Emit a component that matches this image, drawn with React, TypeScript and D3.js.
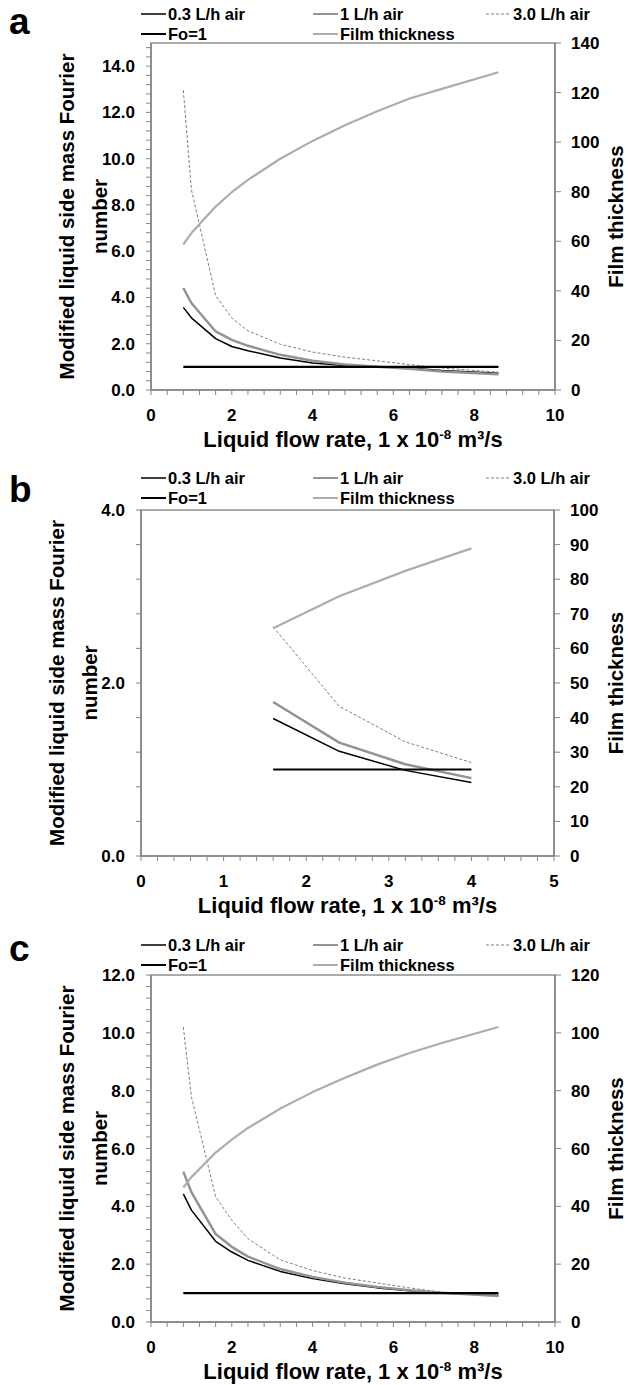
import React from "react";
import * as d3 from "d3";

const FONT = "'Liberation Sans', Arial, Helvetica, sans-serif";

// ---------- Data ----------
const seriesNames = ["0.3 L/h air", "1 L/h air", "3.0 L/h air", "Fo=1", "Film thickness"];
const xTitle = "Liquid flow rate, 1 x 10";
const yTitle1 = "Modified liquid side mass Fourier";
const yTitle2 = "number";
const rTitle = "Film thickness";

// Panel a
const flowA = [0.8, 1.0, 1.6, 2.0, 2.4, 3.2, 4.0, 4.8, 5.6, 6.4, 7.2, 8.6];
const foA03 = [3.57, 3.12, 2.22, 1.88, 1.7, 1.38, 1.17, 1.06, 1.0, 0.95, 0.84, 0.72];
const foA1 = [4.41, 3.76, 2.53, 2.17, 1.91, 1.52, 1.26, 1.1, 1.01, 0.92, 0.8, 0.68];
const foA3 = [12.96, 8.66, 4.08, 3.11, 2.56, 1.98, 1.64, 1.42, 1.26, 1.1, 0.95, 0.77];
const refFlowA = [0.8, 8.6];
const refFoA = [1.0, 1.0];
const filmA = [58.7, 63.3, 74.0, 79.8, 84.8, 93.3, 100.5, 106.8, 112.5, 117.6, 121.5, 128.2];

// Panel b
const flowB = [1.6, 2.4, 3.2, 4.0];
const foB03 = [1.59, 1.21, 0.99, 0.85];
const foB1 = [1.78, 1.31, 1.06, 0.9];
const foB3 = [2.65, 1.73, 1.32, 1.08];
const refFlowB = [1.6, 4.0];
const refFoB = [1.0, 1.0];
const filmB = [65.8, 75.1, 82.4, 88.9];

// Panel c
const flowC = [0.8, 1.0, 1.6, 2.0, 2.4, 3.2, 4.0, 4.8, 5.6, 6.4, 7.2, 8.6];
const foC03 = [4.43, 3.87, 2.79, 2.42, 2.13, 1.75, 1.5, 1.32, 1.18, 1.08, 1.0, 0.92];
const foC1 = [5.2, 4.49, 3.04, 2.6, 2.26, 1.83, 1.56, 1.36, 1.21, 1.1, 1.01, 0.9];
const foC3 = [10.2, 7.79, 4.33, 3.52, 2.88, 2.15, 1.78, 1.52, 1.35, 1.18, 1.03, 0.92];
const refFlowC = [0.8, 8.6];
const refFoC = [1.0, 1.0];
const filmC = [46.5, 50.1, 58.6, 63.1, 67.1, 73.8, 79.5, 84.5, 89.0, 93.0, 96.5, 102.0];

// ---------- Styles ----------
const styles = [
  { stroke: "#000000", width: 1.5, dash: "" },
  { stroke: "#939393", width: 2.5, dash: "" },
  { stroke: "#808080", width: 1, dash: "3,2" },
  { stroke: "#000000", width: 2.2, dash: "" },
  { stroke: "#adadad", width: 2.2, dash: "" },
];

type PanelCfg = {
  label: string;
  top: number;
  bottom: number;
  left: number;
  right: number;
  legendY: number;
  labelY: number;
  xMax: number;
  xStep: number;
  xMinor: number;
  yMax: number;
  yLabelMax: number;
  yStep: number;
  yMinor: number;
  rMax: number;
  rStep: number;
  flow: number[];
  s03: number[];
  s1: number[];
  s3: number[];
  refX: number[];
  refY: number[];
  film: number[];
};

const panels: PanelCfg[] = [
  {
    label: "a", top: 43, bottom: 390, left: 151, right: 555, legendY: 14, labelY: 34,
    xMax: 10, xStep: 2, xMinor: 0.4, yMax: 15, yLabelMax: 14, yStep: 2, yMinor: 0.4,
    rMax: 140, rStep: 20, flow: flowA, s03: foA03, s1: foA1, s3: foA3,
    refX: refFlowA, refY: refFoA, film: filmA,
  },
  {
    label: "b", top: 510, bottom: 856, left: 141, right: 554, legendY: 478, labelY: 502,
    xMax: 5, xStep: 1, xMinor: 0.2, yMax: 4, yLabelMax: 4, yStep: 2, yMinor: 0.4,
    rMax: 100, rStep: 10, flow: flowB, s03: foB03, s1: foB1, s3: foB3,
    refX: refFlowB, refY: refFoB, film: filmB,
  },
  {
    label: "c", top: 975, bottom: 1322, left: 151, right: 555, legendY: 945, labelY: 961,
    xMax: 10, xStep: 2, xMinor: 0.4, yMax: 12, yLabelMax: 12, yStep: 2, yMinor: 0.4,
    rMax: 120, rStep: 20, flow: flowC, s03: foC03, s1: foC1, s3: foC3,
    refX: refFlowC, refY: refFoC, film: filmC,
  },
];

function Panel({ p }: { p: PanelCfg }) {
  const x = d3.scaleLinear().domain([0, p.xMax]).range([p.left, p.right]);
  const y = d3.scaleLinear().domain([0, p.yMax]).range([p.bottom, p.top]);
  const yr = d3.scaleLinear().domain([0, p.rMax]).range([p.bottom, p.top]);
  const line = d3
    .line<[number, number]>()
    .x((d) => x(d[0]))
    .y((d) => y(d[1]));
  const lineR = d3
    .line<[number, number]>()
    .x((d) => x(d[0]))
    .y((d) => yr(d[1]));
  const zip = (a: number[], b: number[]) => a.map((v, i) => [v, b[i]] as [number, number]);

  const xMinorTicks = d3.range(0, p.xMax + 1e-9, p.xMinor);
  const xLabels = d3.range(0, p.xMax + 1e-9, p.xStep);
  const yMinorTicks = d3.range(0, p.yMax + 1e-9, p.yMinor);
  const yLabels = d3.range(0, p.yLabelMax + 1e-9, p.yStep);
  const rTicks = d3.range(0, p.rMax + 1e-9, p.rStep);
  const midY = (p.top + p.bottom) / 2;
  const midX = (p.left + p.right) / 2;
  const axisColor = "#868686";

  const legendCols = [141, 313, 486];
  const legendItems = [
    { i: 0, col: 0, row: 0 },
    { i: 1, col: 1, row: 0 },
    { i: 2, col: 2, row: 0 },
    { i: 3, col: 0, row: 1 },
    { i: 4, col: 1, row: 1 },
  ];

  const paths = [
    { d: line(zip(p.flow, p.s03)), s: styles[0] },
    { d: line(zip(p.flow, p.s1)), s: styles[1] },
    { d: line(zip(p.flow, p.s3)), s: styles[2] },
    { d: line(zip(p.refX, p.refY)), s: styles[3] },
    { d: lineR(zip(p.flow, p.film)), s: styles[4] },
  ];

  return (
    <g>
      {/* panel letter */}
      <text x={9} y={p.labelY} fontSize={37} fontWeight="bold" fontFamily={FONT}>
        {p.label}
      </text>
      {/* legend */}
      {legendItems.map((it) => {
        const s = styles[it.i];
        const lx = legendCols[it.col];
        const ly = p.legendY + it.row * 20;
        return (
          <g key={it.i}>
            <line x1={lx} x2={lx + 25} y1={ly} y2={ly} stroke={s.stroke}
              strokeWidth={Math.min(s.width, 2)} strokeDasharray={s.dash || undefined} />
            <text x={lx + 27} y={ly + 6} fontSize={16.5} fontWeight="bold" fontFamily={FONT}>
              {seriesNames[it.i]}
            </text>
          </g>
        );
      })}
      {/* plot area border */}
      <rect x={p.left} y={p.top} width={p.right - p.left} height={p.bottom - p.top}
        fill="none" stroke="#595959" strokeWidth={1} />
      {/* series */}
      {paths.map((pp, i) => (
        <path key={i} d={pp.d || ""} fill="none" stroke={pp.s.stroke} strokeWidth={pp.s.width}
          strokeDasharray={pp.s.dash || undefined} strokeLinejoin="round" />
      ))}
      {/* left axis */}
      <line x1={p.left} x2={p.left} y1={p.top} y2={p.bottom} stroke={axisColor} strokeWidth={1.5} />
      {yMinorTicks.map((v, i) => (
        <line key={i} x1={p.left - 5} x2={p.left} y1={y(v)} y2={y(v)} stroke={axisColor} strokeWidth={1} />
      ))}
      {yLabels.map((v, i) => (
        <text key={i} x={p.left - 16} y={y(v) + 6} textAnchor="end" fontSize={17}
          fontWeight="bold" fontFamily={FONT}>
          {v.toFixed(1)}
        </text>
      ))}
      {/* right axis */}
      <line x1={p.right} x2={p.right} y1={p.top} y2={p.bottom} stroke={axisColor} strokeWidth={1.5} />
      {rTicks.map((v, i) => (
        <line key={i} x1={p.right} x2={p.right + 6} y1={yr(v)} y2={yr(v)} stroke={axisColor} strokeWidth={1} />
      ))}
      {rTicks.map((v, i) => (
        <text key={i} x={p.right + 16} y={yr(v) + 6} textAnchor="start" fontSize={17}
          fontWeight="bold" fontFamily={FONT}>
          {d3.format("d")(v)}
        </text>
      ))}
      {/* bottom axis */}
      <line x1={p.left} x2={p.right} y1={p.bottom} y2={p.bottom} stroke={axisColor} strokeWidth={1.5} />
      {xMinorTicks.map((v, i) => (
        <line key={i} x1={x(v)} x2={x(v)} y1={p.bottom} y2={p.bottom + 5} stroke={axisColor} strokeWidth={1} />
      ))}
      {xLabels.map((v, i) => (
        <text key={i} x={x(v)} y={p.bottom + 31} textAnchor="middle" fontSize={17}
          fontWeight="bold" fontFamily={FONT}>
          {d3.format("d")(v)}
        </text>
      ))}
      {/* x title */}
      <text x={midX} y={p.bottom + 57} textAnchor="middle" fontSize={22} fontWeight="bold" fontFamily={FONT}>
        {xTitle}
        <tspan dy={-8} fontSize={13.5}>-8</tspan>
        <tspan dy={8}> m³/s</tspan>
      </text>
      {/* left title */}
      <text transform={`translate(${p.left - 77},${midY}) rotate(-90)`} textAnchor="middle"
        fontSize={20.5} fontWeight="bold" fontFamily={FONT}>
        {yTitle1}
      </text>
      <text transform={`translate(${p.left - 44},${midY}) rotate(-90)`} textAnchor="middle"
        fontSize={20.5} fontWeight="bold" fontFamily={FONT}>
        {yTitle2}
      </text>
      {/* right title */}
      <text transform={`translate(623,${midY}) rotate(-90)`} textAnchor="middle"
        fontSize={20.5} fontWeight="bold" fontFamily={FONT}>
        {rTitle}
      </text>
    </g>
  );
}

export default function App() {
  return (
    <svg width={628} height={1385} viewBox="0 0 628 1385"
      style={{ position: "absolute", left: 0, top: 0, background: "#fff" }}>
      <rect x={0} y={0} width={628} height={1385} fill="#fff" />
      {panels.map((p) => (
        <Panel key={p.label} p={p} />
      ))}
    </svg>
  );
}
